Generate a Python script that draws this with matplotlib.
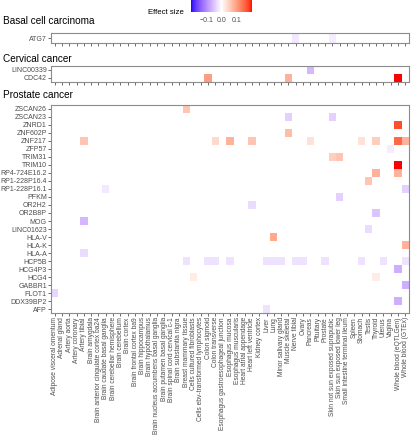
import numpy as np
import matplotlib
matplotlib.use("Agg")
import matplotlib.pyplot as plt
from matplotlib.colors import ListedColormap, Normalize
from matplotlib.cm import ScalarMappable

plt.rcParams['font.family'] = ['Liberation Sans', 'DejaVu Sans']

tissues = [
    "Adipose visceral omentum", "Adrenal gland", "Artery aorta", "Artery coronary",
    "Artery tibial", "Brain amygdala", "Brain anterior cingulate cortex ba24",
    "Brain caudate basal ganglia", "Brain cerebellar hemisphere", "Brain cerebellum",
    "Brain cortex", "Brain frontal cortex ba9", "Brain hippocampus", "Brain hypothalamus",
    "Brain nucleus accumbens basal ganglia", "Brain putamen basal ganglia",
    "Brain spinal cord cervical c-1", "Brain substantia nigra", "Breast mammary tissue",
    "Cells cultured fibroblasts", "Cells ebv-transformed lymphocytes", "Colon sigmoid",
    "Colon transverse", "Esophagus gastroesophageal junction", "Esophagus mucosa",
    "Esophagus muscularis", "Heart atrial appendage", "Heart left ventricle",
    "Kidney cortex", "Liver", "Lung", "Minor salivary gland", "Muscle skeletal",
    "Nerve tibial", "Ovary", "Pancreas", "Pituitary", "Prostate",
    "Skin not sun exposed suprapubic", "Skin sun exposed lower leg",
    "Small intestine terminal ileum", "Spleen", "Stomach", "Testis", "Thyroid",
    "Uterus", "Vagina", "Whole blood (eQTLGen)", "Whole blood (GTEx)",
]

# Basal cell carcinoma
bcc_genes = ["ATG7"]
bcc_gene = ["ATG7", "ATG7"]
bcc_tissue = ["Nerve tibial", "Skin not sun exposed suprapubic"]
bcc_effect = [-0.02, -0.015]

# Cervical cancer
cc_genes = ["CDC42", "LINC00339"]
cc_gene = ["LINC00339", "CDC42", "CDC42", "CDC42"]
cc_tissue = ["Pancreas", "Colon sigmoid", "Muscle skeletal", "Whole blood (eQTLGen)"]
cc_effect = [-0.06, 0.10, 0.08, 0.20]

# Prostate cancer
pc_genes = ["AFP", "DDX39BP2", "FLOT1", "GABBR1", "HCG4", "HCG4P3", "HCP5B", "HLA-A",
            "HLA-K", "HLA-V", "LINC01623", "MOG", "OR2B8P", "OR2H2", "PFKM",
            "RP1-228P16.1", "RP1-228P16.4", "RP4-724E16.2", "TRIM10", "TRIM31",
            "ZFP57", "ZNF217", "ZNF602P", "ZNRD1", "ZSCAN23", "ZSCAN26"]
pc_gene = (["ZSCAN26", "ZSCAN23", "ZSCAN23", "ZNRD1", "ZNF602P"]
           + ["ZNF217"] * 9
           + ["ZFP57", "TRIM31", "TRIM31", "TRIM10", "RP4-724E16.2", "RP4-724E16.2",
              "RP1-228P16.4", "RP1-228P16.1", "RP1-228P16.1", "PFKM", "OR2H2", "OR2B8P",
              "MOG", "LINC01623", "HLA-V", "HLA-K", "HLA-A"]
           + ["HCP5B"] * 13
           + ["HCG4P3", "HCG4", "HCG4", "GABBR1", "FLOT1", "DDX39BP2", "AFP"])
pc_tissue = (["Breast mammary tissue", "Muscle skeletal", "Skin not sun exposed suprapubic",
              "Whole blood (eQTLGen)", "Muscle skeletal",
              "Artery tibial", "Colon transverse", "Esophagus mucosa", "Heart left ventricle",
              "Pancreas", "Stomach", "Thyroid", "Whole blood (eQTLGen)", "Whole blood (GTEx)",
              "Vagina", "Skin not sun exposed suprapubic", "Skin sun exposed lower leg",
              "Whole blood (eQTLGen)", "Thyroid", "Whole blood (eQTLGen)", "Testis",
              "Brain caudate basal ganglia", "Whole blood (GTEx)", "Skin sun exposed lower leg",
              "Heart left ventricle", "Thyroid", "Artery tibial", "Testis", "Lung",
              "Whole blood (GTEx)", "Artery tibial",
              "Breast mammary tissue", "Colon sigmoid", "Colon transverse", "Esophagus mucosa",
              "Liver", "Lung", "Minor salivary gland", "Nerve tibial", "Ovary", "Prostate",
              "Stomach", "Uterus", "Whole blood (GTEx)",
              "Whole blood (eQTLGen)", "Cells cultured fibroblasts", "Thyroid",
              "Whole blood (GTEx)", "Adipose visceral omentum", "Whole blood (eQTLGen)", "Liver"])
pc_effect = ([0.06, -0.04, -0.04, 0.17, 0.07,
              0.06, 0.04, 0.08, 0.06, 0.03, 0.03, 0.05, 0.15, 0.08,
              -0.015, 0.05, 0.06, 0.20, 0.08, 0.08, 0.06, -0.02, -0.04, -0.04,
              -0.03, -0.05, -0.06, -0.03, 0.09, 0.08, -0.03]
             + [-0.025] * 13
             + [-0.07, 0.02, 0.02, -0.07, -0.035, -0.07, -0.025])


def srgb_to_lab(rgb):
    c = np.asarray(rgb, float)
    lin = np.where(c <= 0.04045, c / 12.92, ((c + 0.055) / 1.055) ** 2.4)
    m = np.array([[0.4124, 0.3576, 0.1805], [0.2126, 0.7152, 0.0722], [0.0193, 0.1192, 0.9505]])
    xyz = m @ lin / np.array([0.95047, 1.0, 1.08883])
    d = 6 / 29
    f = np.where(xyz > d ** 3, np.cbrt(xyz), xyz / (3 * d ** 2) + 4 / 29)
    return np.array([116 * f[1] - 16, 500 * (f[0] - f[1]), 200 * (f[1] - f[2])])


def lab_to_srgb(lab):
    L, a, b = lab
    fy = (L + 16) / 116
    f = np.array([fy + a / 500, fy, fy - b / 200])
    d = 6 / 29
    xyz = np.where(f > d, f ** 3, 3 * d ** 2 * (f - 4 / 29)) * np.array([0.95047, 1.0, 1.08883])
    minv = np.linalg.inv(np.array([[0.4124, 0.3576, 0.1805], [0.2126, 0.7152, 0.0722],
                                   [0.0193, 0.1192, 0.9505]]))
    lin = np.clip(minv @ xyz, 0, 1)
    c = np.where(lin <= 0.0031308, 12.92 * lin, 1.055 * lin ** (1 / 2.4) - 0.055)
    return np.clip(c, 0, 1)


# blue - white - red ramp interpolated in Lab, like ggplot's gradient2
blue, white, red = srgb_to_lab([0, 0, 1]), srgb_to_lab([1, 1, 1]), srgb_to_lab([1, 0, 0])
ramp = []
for t in np.linspace(0, 1, 256):
    if t < 0.5:
        ramp.append(lab_to_srgb(blue + (white - blue) * (t / 0.5)))
    else:
        ramp.append(lab_to_srgb(white + (red - white) * ((t - 0.5) / 0.5)))
cmap = ListedColormap(ramp)
cmap.set_bad((1, 1, 1, 0))
norm = Normalize(-0.2, 0.2)

W, H = 411, 440
fig = plt.figure(figsize=(W / 100, H / 100), dpi=100)


def px_axes(left, top, right, bottom):
    return fig.add_axes([left / W, 1 - bottom / H, (right - left) / W, (bottom - top) / H])


def draw_panel(top, bottom, title, title_y, genes, gene, tissue, effect, xlabels):
    ax = px_axes(51, top, 409, bottom)
    mat = np.full((len(genes), len(tissues)), np.nan)
    for g, t, v in zip(gene, tissue, effect):
        mat[genes.index(g), tissues.index(t)] = v
    ax.pcolormesh(np.arange(len(tissues) + 1) - 0.5, np.arange(len(genes) + 1) - 0.5,
                  np.ma.masked_invalid(mat), cmap=cmap, norm=norm)
    ax.set_xlim(-0.5, len(tissues) - 0.5)
    ax.set_ylim(-0.5, len(genes) - 0.5)
    ax.set_yticks(range(len(genes)))
    ax.set_yticklabels(genes, fontsize=5, color='#4D4D4D')
    ax.set_xticks(range(len(tissues)))
    if xlabels:
        ax.set_xticklabels(tissues, rotation=90, fontsize=4.8, color='#4D4D4D')
    else:
        ax.set_xticklabels([])
    ax.tick_params(length=2, width=0.5, color='#333333', pad=1)
    for s in ax.spines.values():
        s.set_color('#8C8C8C')
        s.set_linewidth(0.8)
    fig.text(3 / W, 1 - title_y / H, title, fontsize=7.2, va='baseline', ha='left')
    return ax


draw_panel(33, 43, "Basal cell carcinoma", 24.5, bcc_genes, bcc_gene, bcc_tissue, bcc_effect, False)
draw_panel(66, 82, "Cervical cancer", 61.5, cc_genes, cc_gene, cc_tissue, cc_effect, False)
draw_panel(105, 313, "Prostate cancer", 98, pc_genes, pc_gene, pc_tissue, pc_effect, True)

cax = px_axes(191, 0, 252, 12)
cb = fig.colorbar(ScalarMappable(norm=norm, cmap=cmap), cax=cax, orientation='horizontal')
cb.outline.set_visible(False)
cb.set_ticks([-0.1, 0.0, 0.1])
cb.set_ticklabels(["\u22120.1", "0.0", "0.1"])
cax.tick_params(labelsize=5, length=2, color='white', labelcolor='#4D4D4D', pad=1.5)
fig.text(148 / W, 1 - 12 / H, "Effect size", fontsize=5.6, va='center', ha='left')

fig.savefig("out.png", dpi=100)
